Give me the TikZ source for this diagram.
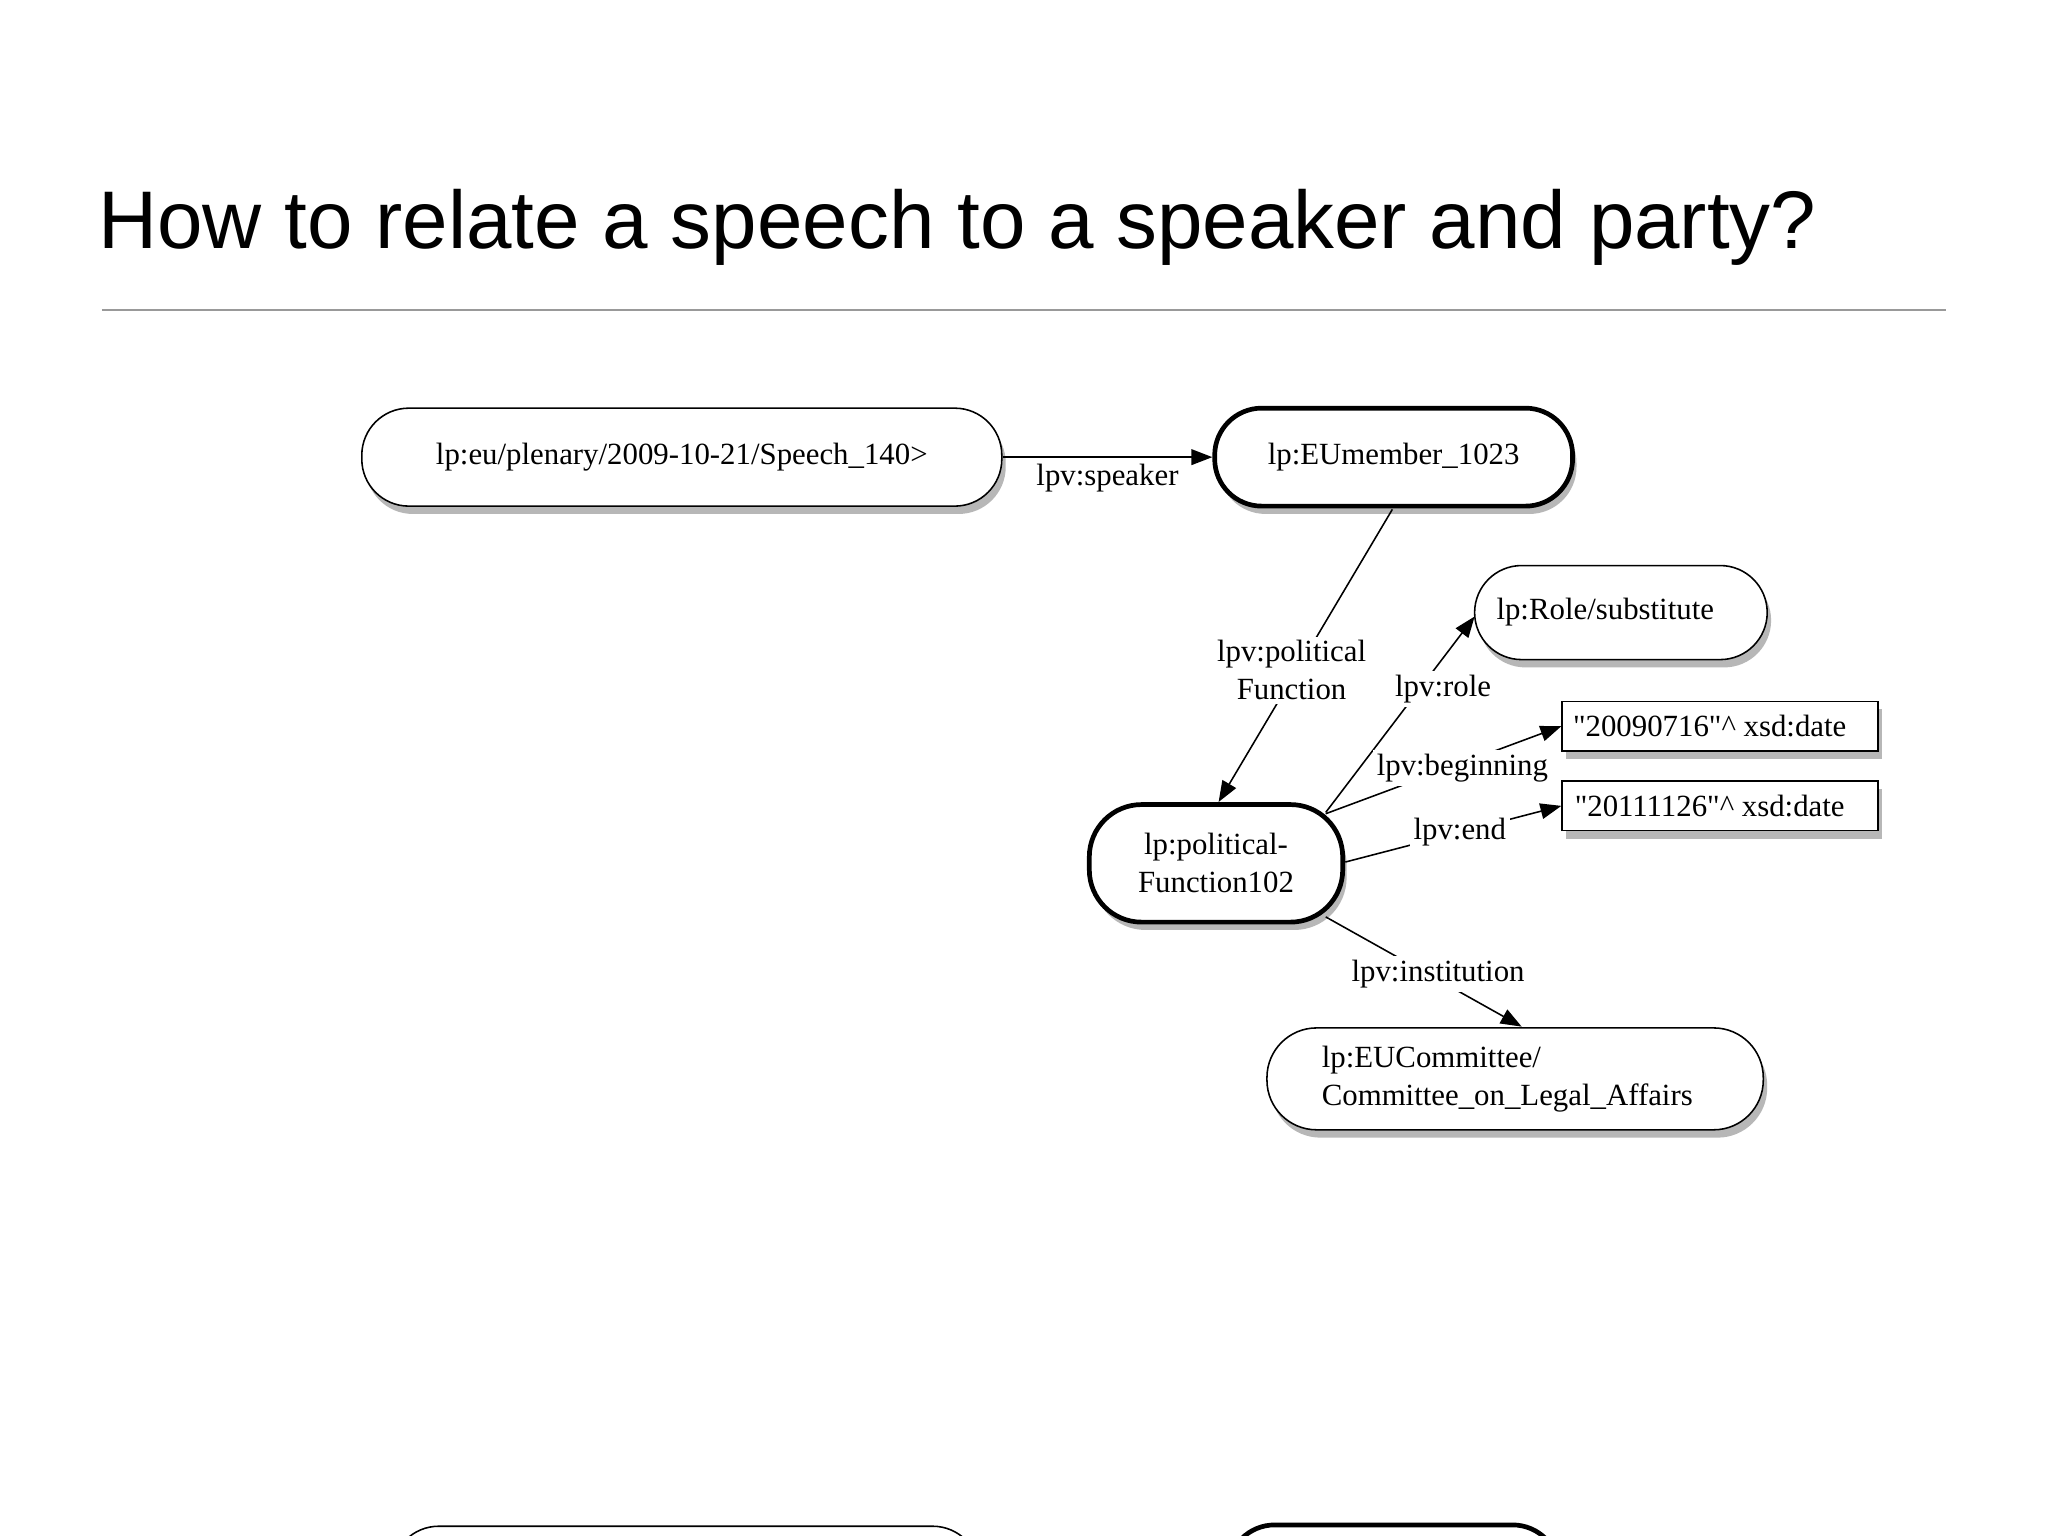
\documentclass[tikz,border=0pt]{standalone}
\usepackage{fontspec}
\setmainfont{Liberation Serif}
\newfontfamily\titlefont{Liberation Sans}
\usetikzlibrary{arrows.meta,shadows}
\begin{document}
\begin{tikzpicture}[x=0.5pt,y=-0.5pt,
  shad/.style={drop shadow={shadow xshift=1.5pt,shadow yshift=-3pt,opacity=0.4,fill=black!70}},
  capsule/.style={draw,fill=white,shad,rounded corners=18pt,font=\fontsize{11.8}{14.5}\selectfont,inner sep=0pt},
  thinb/.style={line width=0.6pt},
  thickb/.style={line width=1.8pt},
  lit/.style={draw,fill=white,shad,thinb,minimum width=121pt,minimum height=19pt,font=\fontsize{11.8}{14}\selectfont,inner sep=0pt},
  lab/.style={fill=white,inner sep=1.5pt,font=\fontsize{11.8}{14.5}\selectfont,align=center},
  arr/.style={-{Triangle[length=8pt,width=6pt]},line width=0.6pt}]
\clip (0,0) rectangle (1568,1176);
\fill[white] (0,0) rectangle (1568,1176);
\node[anchor=base west,font=\titlefont\fontsize{31.3}{36}\selectfont,inner sep=0pt] (title) at (75,190) {How to relate a speech to a speaker and party?};
\draw[black!40,line width=0.8pt] (78,237) -- (1490,237);

\node[capsule,thinb,minimum width=245pt,minimum height=37.5pt] (speech) at (522,350) {lp:eu/plenary/2009-10-21/Speech\_140>};
\node[capsule,thickb,minimum width=137pt,minimum height=37.5pt] (eum) at (1067,350) {lp:EUmember\_1023};
\node[capsule,thinb,minimum width=112pt,minimum height=36pt] (role) at (1241,469) {\hspace*{-12pt}lp:Role/substitute};
\node[lit] (d1) at (1317,556) {\hspace*{-8pt}\textquotedbl 20090716\textquotedbl\^{} xsd:date};
\node[lit] (d2) at (1317,617) {\hspace*{-8pt}\textquotedbl 20111126\textquotedbl\^{} xsd:date};
\node[capsule,thickb,minimum width=97pt,minimum height=45pt,align=center,rounded corners=20pt] (pf) at (931,661) {lp:political-\\Function102};
\node[capsule,thinb,minimum width=190pt,minimum height=39pt,align=left,rounded corners=19pt] (com) at (1160,826) {lp:EUCommittee/\\Committee\_on\_Legal\_Affairs\hspace*{6pt}};
\node[capsule,thinb,minimum width=225pt,minimum height=37.5pt] (b1) at (525,1206) {};
\node[capsule,thickb,minimum width=127pt,minimum height=37.5pt] (b2) at (1067,1205) {};

\draw[arr] (speech.east) -- node[lab,below=1pt] {lpv:speaker} (eum.west);
\draw[arr] (1066,390) -- node[lab,pos=0.55,xshift=-2pt] {lpv:political\\Function} (933,614);
\draw[arr] (1015,622) -- node[lab,pos=0.63,xshift=9pt] {lpv:role} (1129,472);
\draw[arr] (1015,623) -- node[lab,pos=0.58,yshift=-2pt] {lpv:beginning} (d1.west);
\draw[arr] (1030,660) -- node[lab,pos=0.53] {lpv:end} (d2.west);
\draw[arr] (1015,702) -- node[lab,pos=0.52,xshift=4pt] {lpv:institution} (1165,786);
\end{tikzpicture}
\end{document}
